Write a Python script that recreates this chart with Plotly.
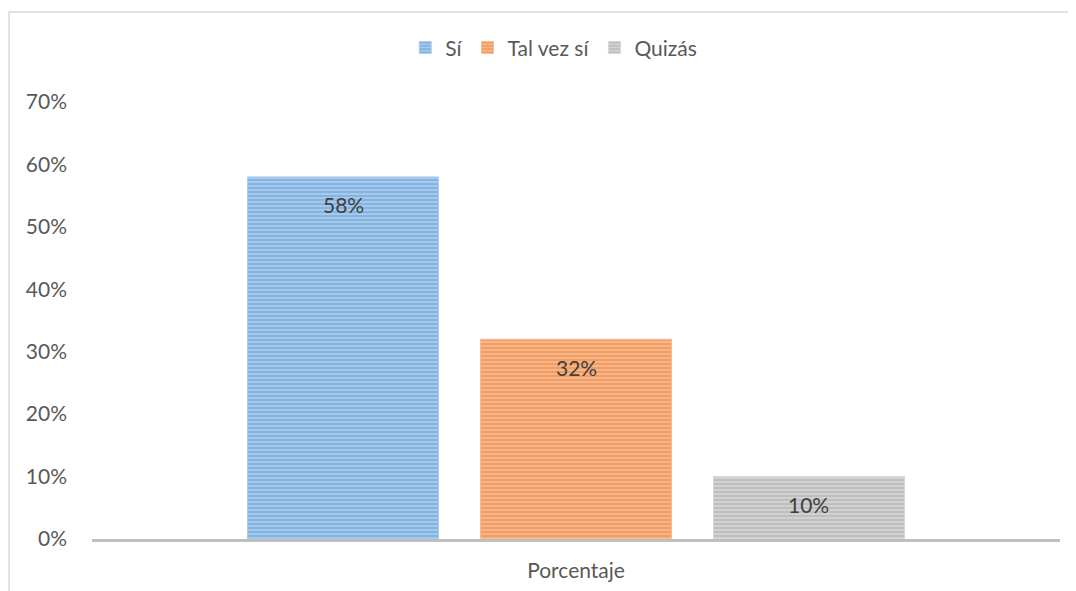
import plotly.graph_objects as go

categories = ["Porcentaje"]
series_names = ["Sí", "Tal vez sí", "Quizás"]
series_values = [0.58, 0.32, 0.10]
base_colors = ["#5B9BD5", "#ED7D31", "#A5A5A5"]
light_colors = ["#ADCDED", "#F7BC94", "#D6D6D6"]
tick_vals = [0, 0.1, 0.2, 0.3, 0.4, 0.5, 0.6, 0.7]
tick_text = ["0%", "10%", "20%", "30%", "40%", "50%", "60%", "70%"]

FONT = "Lato, 'Open Sans', sans-serif"
bargap = 0.278
bargroupgap = 0.18

fig = go.Figure()
for name, val, c, lc in zip(series_names, series_values, base_colors, light_colors):
    fig.add_trace(go.Bar(
        x=categories, y=[val], name=name,
        marker=dict(color=lc, line=dict(color=lc, width=1),
                    pattern=dict(shape="-", fgcolor=c, bgcolor=lc, size=4, solidity=0.6)),
    ))

# data labels near the top inside each bar
n = len(series_values)
slot = (1 - bargap) / n
for i, val in enumerate(series_values):
    xc = -(1 - bargap) / 2 + slot * (i + 0.5)
    fig.add_annotation(x=xc, y=val, xref="x", yref="y", text=f"{round(val*100)}%",
                       showarrow=False, yshift=-28,
                       font=dict(family=FONT, size=21, color="#404040"))

# outer chart border
fig.add_shape(type="rect", xref="paper", yref="paper",
              x0=-0.0857, x1=1.06, y0=-0.2, y1=1.206,
              line=dict(color="#D9D9D9", width=1.5), fillcolor="rgba(0,0,0,0)", layer="below")

fig.update_layout(
    width=1076, height=591,
    margin=dict(l=84, r=24, t=94, b=60),
    paper_bgcolor="white", plot_bgcolor="white",
    barmode="group", bargap=bargap, bargroupgap=bargroupgap,
    font=dict(family=FONT, size=21, color="#595959"),
    showlegend=True,
    legend=dict(orientation="h", x=0.477, xanchor="center", y=1.124, yanchor="middle",
                font=dict(family=FONT, size=21, color="#595959"),
                itemclick=False, traceorder="normal"),
    xaxis=dict(showline=True, linecolor="#BFBFBF", linewidth=2.5, showgrid=False,
               ticks="", ticklabelstandoff=11, zeroline=False, automargin=False),
    yaxis=dict(range=[0, 0.7], tickvals=tick_vals, ticktext=tick_text, showgrid=False,
               zeroline=False, showline=False, ticks="", ticklabelstandoff=24,
               automargin=False),
)

fig.write_html("out.html")
